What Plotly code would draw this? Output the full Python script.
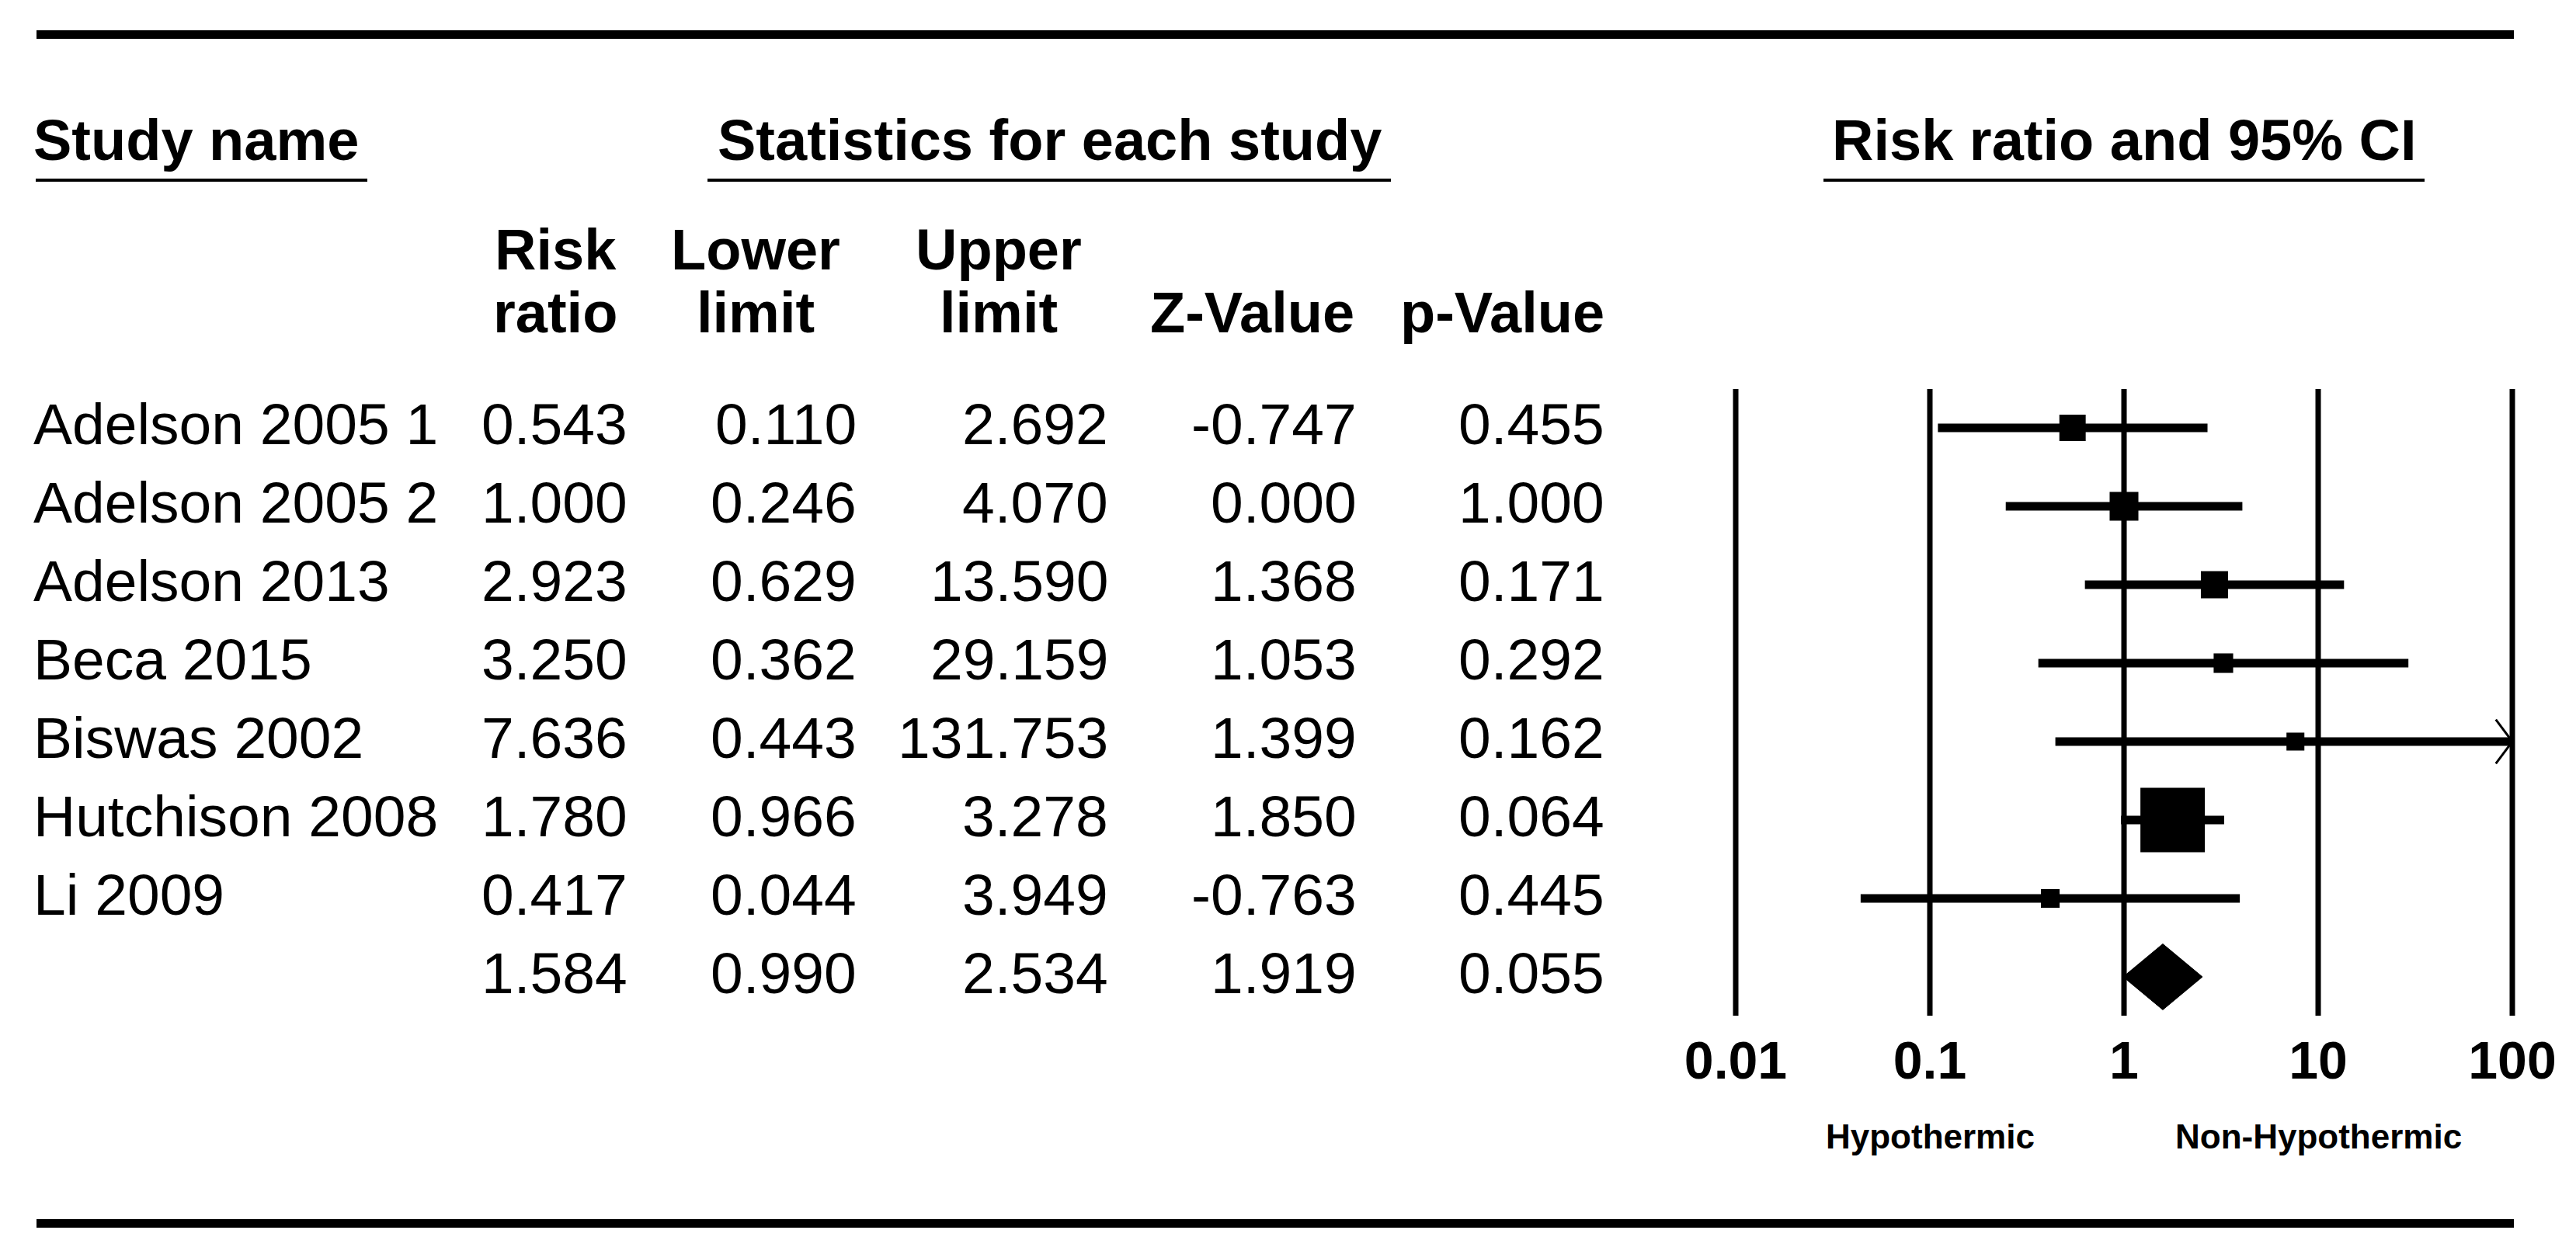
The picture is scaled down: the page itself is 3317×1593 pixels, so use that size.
import math
import plotly.graph_objects as go

# ---------------- data ----------------
studies = ["Adelson 2005 1", "Adelson 2005 2", "Adelson 2013", "Beca 2015",
           "Biswas 2002", "Hutchison 2008", "Li 2009"]
risk_ratio = [0.543, 1.000, 2.923, 3.250, 7.636, 1.780, 0.417]
lower_limit = [0.110, 0.246, 0.629, 0.362, 0.443, 0.966, 0.044]
upper_limit = [2.692, 4.070, 13.590, 29.159, 131.753, 3.278, 3.949]
z_value = [-0.747, 0.000, 1.368, 1.053, 1.399, 1.850, -0.763]
p_value = [0.455, 1.000, 0.171, 0.292, 0.162, 0.064, 0.445]
rel_weight = [9.3, 11.1, 9.9, 5.1, 4.3, 55.7, 4.7]

summary_rr = 1.584
summary_lower = 0.990
summary_upper = 2.534
summary_z = 1.919
summary_p = 0.055

tick_vals = [0.01, 0.1, 1, 10, 100]
tick_text = ["0.01", "0.1", "1", "10", "100"]
left_label = "Hypothermic"
right_label = "Non-Hypothermic"

# ---------------- layout helpers ----------------
W, H = 3317, 1593
ROW0, STEP = 543, 101.0


def yv(px):
    return (px - ROW0) / STEP


def xp(px):
    return px / W


def yp(px):
    return 1 - px / H


REG = "Liberation Sans, Arial, sans-serif"

fig = go.Figure()

x_min, x_max = tick_vals[0], tick_vals[-1]

# vertical reference lines
for t in tick_vals:
    fig.add_trace(go.Scatter(x=[t, t], y=[yv(493), yv(1300)], mode="lines",
                             line=dict(color="black", width=7), hoverinfo="skip",
                             cliponaxis=False))

# CI lines and arrows
for i in range(len(studies)):
    lo = max(lower_limit[i], x_min)
    hi = min(upper_limit[i], x_max)
    fig.add_trace(go.Scatter(x=[lo, hi], y=[i, i], mode="lines",
                             line=dict(color="black", width=11), hoverinfo="skip",
                             cliponaxis=False))
    if upper_limit[i] > x_max:
        back = x_max / 10 ** 0.085
        fig.add_trace(go.Scatter(x=[back, x_max, back], y=[i - 0.28, i, i + 0.28],
                                 mode="lines", line=dict(color="black", width=3),
                                 hoverinfo="skip", cliponaxis=False))

# boxes
fig.add_trace(go.Scatter(
    x=risk_ratio, y=list(range(len(studies))), mode="markers", opacity=1,
    marker=dict(symbol="square", color="#000000", opacity=1,
                size=[11.12 * math.sqrt(w) for w in rel_weight],
                line=dict(width=0, color="#000000")),
    hoverinfo="skip", cliponaxis=False))

# summary diamond
ys = len(studies)
h = 0.42
fig.add_trace(go.Scatter(
    x=[summary_lower, summary_rr, summary_upper, summary_rr, summary_lower],
    y=[ys, ys - h, ys, ys + h, ys], mode="lines", fill="toself",
    fillcolor="black", line=dict(color="black", width=1), hoverinfo="skip"))

# tick labels
fig.add_trace(go.Scatter(
    x=tick_vals, y=[yv(1364)] * len(tick_vals), mode="text",
    text=["<b>%s</b>" % t for t in tick_text], textposition="middle center",
    textfont=dict(family=REG, size=68, color="black"), hoverinfo="skip",
    cliponaxis=False))

annotations = []


def ann(text, x, y, xanchor, size, family, yref="paper", xref="paper", yshift=0):
    annotations.append(dict(text=text, x=x, y=y, xref=xref, yref=yref,
                            xanchor=xanchor, yanchor="middle", showarrow=False,
                            font=dict(family=family, size=size, color="black"),
                            yshift=yshift))


# direction labels
ann("<b>%s</b>" % left_label, math.log10(0.1), yv(1455), "center", 44, REG,
    yref="y", xref="x")
ann("<b>%s</b>" % right_label, math.log10(10), yv(1455), "center", 44, REG,
    yref="y", xref="x")

# headers
HS = 74
ann("<b>Study name</b>", xp(33), yp(172), "left", HS, REG)
ann("<b>Statistics for each study</b>", xp(1343), yp(172), "center", HS, REG)
ann("<b>Risk ratio and 95% CI</b>", xp(2727), yp(172), "center", HS, REG)

col_centers = [707, 965, 1278, 1604, 1926]
hdr1 = ["Risk", "Lower", "Upper", "", ""]
hdr2 = ["ratio", "limit", "limit", "Z-Value", "p-Value"]
for c, a, b in zip(col_centers, hdr1, hdr2):
    if a:
        ann("<b>%s</b>" % a, xp(c), yp(313), "center", HS, REG)
    ann("<b>%s</b>" % b, xp(c), yp(394), "center", HS, REG)

# table body
col_right = [802, 1097, 1421, 1741, 2060]
cols = [risk_ratio, lower_limit, upper_limit, z_value, p_value]
for i, name in enumerate(studies):
    ann(name, xp(33), i, "left", 75, REG, yref="y", yshift=5)
    for r, col in zip(col_right, cols):
        ann("%.3f" % col[i], xp(r), i, "right", 75, REG, yref="y", yshift=5)
summ = [summary_rr, summary_lower, summary_upper, summary_z, summary_p]
for r, v in zip(col_right, summ):
    ann("%.3f" % v, xp(r), ys, "right", 75, REG, yref="y", yshift=5)

shapes = [
    dict(type="line", xref="paper", yref="paper", x0=xp(39), x1=xp(3229),
         y0=yp(36.5), y1=yp(36.5), line=dict(color="black", width=11)),
    dict(type="line", xref="paper", yref="paper", x0=xp(39), x1=xp(3229),
         y0=yp(1567.5), y1=yp(1567.5), line=dict(color="black", width=11)),
    dict(type="line", xref="paper", yref="paper", x0=xp(38), x1=xp(465),
         y0=yp(224), y1=yp(224), line=dict(color="black", width=4)),
    dict(type="line", xref="paper", yref="paper", x0=xp(903), x1=xp(1783),
         y0=yp(224), y1=yp(224), line=dict(color="black", width=4)),
    dict(type="line", xref="paper", yref="paper", x0=xp(2340), x1=xp(3114),
         y0=yp(224), y1=yp(224), line=dict(color="black", width=4)),
]

fig.update_layout(
    width=W, height=H, margin=dict(l=0, r=0, t=0, b=0),
    paper_bgcolor="white", plot_bgcolor="white", showlegend=False,
    annotations=annotations, shapes=shapes,
    xaxis=dict(type="log", domain=[xp(2227 - 50), xp(3227 + 50)], range=[-2.2, 2.2],
               showgrid=False, zeroline=False, showticklabels=False,
               showline=False, ticks=""),
    yaxis=dict(range=[yv(H), yv(0)], domain=[0, 1], showgrid=False,
               zeroline=False, showticklabels=False, showline=False, ticks=""),
)

fig.write_html("out.html")
